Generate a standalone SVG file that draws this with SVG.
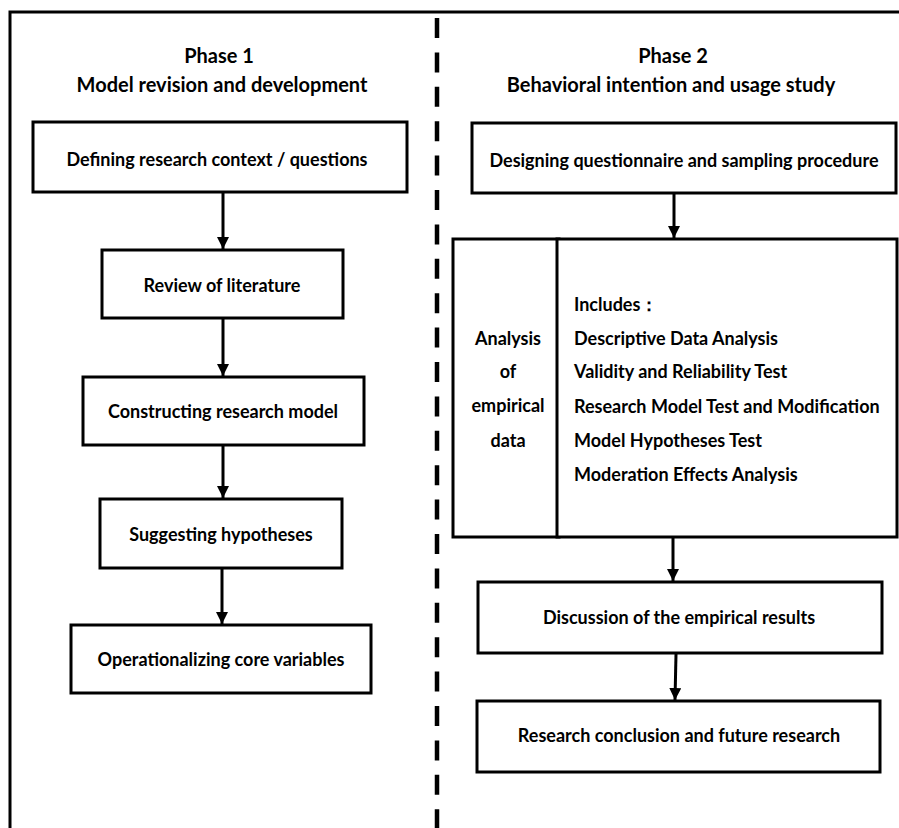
<svg xmlns="http://www.w3.org/2000/svg" width="899" height="828" viewBox="0 0 899 828">
  <defs>
    <style>
      .frame { stroke: #000; stroke-width: 3; fill: none; }
      .divider { stroke: #000; stroke-width: 4.5; stroke-dasharray: 20 14.4; fill: none; }
      .box { stroke: #000; stroke-width: 3; fill: #fff; }
      .edge { stroke: #000; stroke-width: 3; fill: none; marker-end: url(#arrow); }
      text { font-family: Lato, "Liberation Sans", sans-serif; font-weight: 700; fill: #000; }
      .title { font-size: 20px; text-anchor: middle; }
      .label { font-size: 18px; text-anchor: middle; }
      .item { font-size: 18px; }
    </style>
    <marker id="arrow" markerWidth="13" markerHeight="12" refX="12" refY="6" orient="auto" markerUnits="userSpaceOnUse">
      <path d="M0,0 L12,6 L0,12 Z" fill="#000"/>
    </marker>
  </defs>

  <rect width="899" height="828" fill="#fff"/>

  <!-- outer frame and phase divider -->
  <g id="frame">
    <path class="frame" d="M10,828 V12 H899"/>
    <line class="divider" x1="437" y1="18" x2="437" y2="828"/>
  </g>

  <!-- phase headings -->
  <g id="phase1-title">
    <text class="title" x="219" y="63">Phase 1</text>
    <text class="title" x="222" y="92">Model revision and development</text>
  </g>
  <g id="phase2-title">
    <text class="title" x="673" y="63">Phase 2</text>
    <text class="title" x="671" y="92">Behavioral intention and usage study</text>
  </g>

  <!-- phase 1 steps -->
  <g id="defining-context">
    <rect class="box" x="33" y="122" width="374" height="70"/>
    <text class="label" x="217" y="166">Defining research context / questions</text>
  </g>
  <g id="review-literature">
    <rect class="box" x="102" y="250" width="241" height="68"/>
    <text class="label" x="222" y="292">Review of literature</text>
  </g>
  <g id="constructing-model">
    <rect class="box" x="83" y="377" width="281" height="68"/>
    <text class="label" x="223" y="418">Constructing research model</text>
  </g>
  <g id="suggesting-hypotheses">
    <rect class="box" x="100" y="499" width="242" height="69"/>
    <text class="label" x="221" y="541">Suggesting hypotheses</text>
  </g>
  <g id="operationalizing">
    <rect class="box" x="71" y="625" width="300" height="68"/>
    <text class="label" x="221" y="666">Operationalizing core variables</text>
  </g>

  <!-- phase 2 steps -->
  <g id="designing-questionnaire">
    <rect class="box" x="472" y="123" width="424" height="70"/>
    <text class="label" x="684" y="167">Designing questionnaire and sampling procedure</text>
  </g>
  <g id="empirical-analysis">
    <rect class="box" x="453" y="239" width="106" height="298"/>
    <rect class="box" x="557" y="239" width="340" height="298"/>
    <text class="label" x="508" y="345">Analysis</text>
    <text class="label" x="508" y="378">of</text>
    <text class="label" x="508" y="412">empirical</text>
    <text class="label" x="508" y="447">data</text>
    <text class="item" x="574" y="311">Includes：</text>
    <text class="item" x="574" y="345">Descriptive Data Analysis</text>
    <text class="item" x="574" y="378">Validity and Reliability Test</text>
    <text class="item" x="574" y="413">Research Model Test and Modification</text>
    <text class="item" x="574" y="447">Model Hypotheses Test</text>
    <text class="item" x="574" y="481">Moderation Effects Analysis</text>
  </g>
  <g id="discussion">
    <rect class="box" x="478" y="582" width="404" height="71"/>
    <text class="label" x="679" y="624">Discussion of the empirical results</text>
  </g>
  <g id="conclusion">
    <rect class="box" x="477" y="701" width="403" height="71"/>
    <text class="label" x="679" y="742">Research conclusion and future research</text>
  </g>

  <!-- connectors -->
  <g id="connectors">
    <line class="edge" x1="223" y1="193" x2="223" y2="249"/>
    <line class="edge" x1="223" y1="319" x2="223" y2="376"/>
    <line class="edge" x1="223" y1="446" x2="223" y2="498"/>
    <line class="edge" x1="222" y1="569" x2="222" y2="624"/>
    <line class="edge" x1="674" y1="194" x2="674" y2="238"/>
    <line class="edge" x1="673" y1="538" x2="673" y2="581"/>
    <line class="edge" x1="676" y1="654" x2="675" y2="700"/>
  </g>
</svg>
